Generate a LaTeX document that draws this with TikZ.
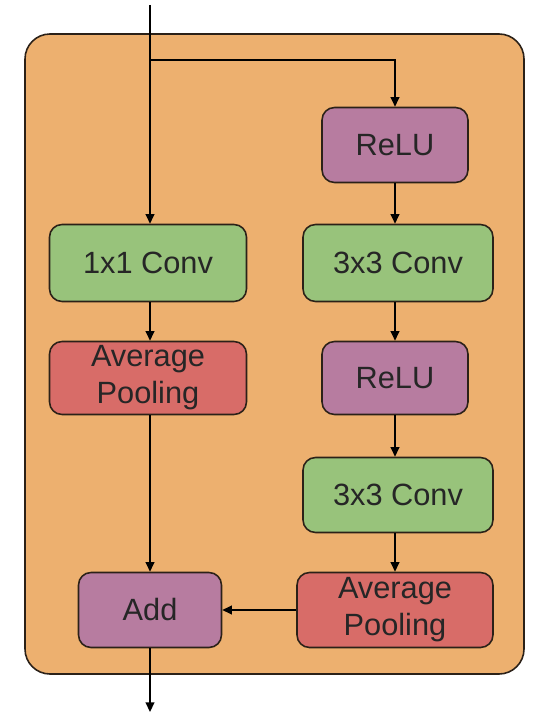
\documentclass[tikz,border=0pt]{standalone}
\usepackage{fontspec}
\setmainfont{Liberation Sans}
\usetikzlibrary{arrows.meta}
\definecolor{blockbg}{HTML}{EDB06F}
\definecolor{convgreen}{HTML}{98C37B}
\definecolor{poolred}{HTML}{D86C68}
\definecolor{relupurple}{HTML}{B77CA0}
\definecolor{edgedark}{HTML}{2B2118}

\begin{document}
\begin{tikzpicture}[x=0.02cm, y=-0.02cm, >={Triangle[length=5.5pt,width=5pt]},
  layer/.style={draw=edgedark, line width=0.9pt, rounded corners=0.25cm,
    text=black!85, align=center, inner sep=0pt,
    font=\fontsize{17.5}{21}\selectfont},
  conv/.style={layer, fill=convgreen},
  pool/.style={layer, fill=poolred},
  relu/.style={layer, fill=relupurple},
  flow/.style={->, line width=0.9pt, black}]

\useasboundingbox (0,0) rectangle (535,712);

% residual block background
\draw[edgedark, line width=0.9pt, fill=blockbg, rounded corners=0.5cm] (25,34) rectangle (524,674);

% left branch
\node[conv, minimum width=3.94cm, minimum height=1.54cm] (conva) at (148,263) {1x1 Conv};
\node[pool, minimum width=3.94cm, minimum height=1.46cm] (poola) at (148,378) {Average\\Pooling};
\node[relu, minimum width=2.86cm, minimum height=1.5cm] (add) at (150,610) {Add};

% right branch
\node[relu, minimum width=2.92cm, minimum height=1.5cm] (relua) at (395,145) {ReLU};
\node[conv, minimum width=3.8cm, minimum height=1.54cm] (convb) at (398,263) {3x3 Conv};
\node[relu, minimum width=2.92cm, minimum height=1.46cm] (relub) at (395,378) {ReLU};
\node[conv, minimum width=3.8cm, minimum height=1.5cm] (convc) at (398,495) {3x3 Conv};
\node[pool, minimum width=3.92cm, minimum height=1.5cm] (poolb) at (395,610) {Average\\Pooling};

\coordinate (in) at (150,5);
\coordinate (split) at (150,60);
\coordinate (out) at (150,712);

% connectors
\draw[flow] (in) -- (conva.north -| in);
\draw[flow] (split) -| (relua.north);
\draw[flow] (conva.south -| in) -- (poola.north -| in);
\draw[flow] (poola.south -| in) -- (add.north);
\draw[flow] (relua) -- (relua |- convb.north);
\draw[flow] (relua |- convb.south) -- (relub.north);
\draw[flow] (relub) -- (relub |- convc.north);
\draw[flow] (relub |- convc.south) -- (poolb.north);
\draw[flow] (poolb) -- (add);
\draw[flow] (add) -- (out);

\end{tikzpicture}
\end{document}
